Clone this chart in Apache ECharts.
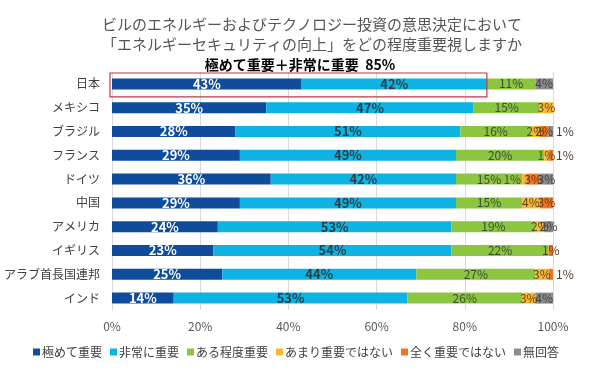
<!DOCTYPE html>
<html><head><meta charset="utf-8">
<script src="https://cdn.jsdelivr.net/npm/echarts@6/dist/echarts.min.js"></script>
<style>html,body{margin:0;padding:0;background:#fff}#c{width:592px;height:375px}</style>
</head><body><div id="c"></div>
<script>
const categories = ['日本','メキシコ','ブラジル','フランス','ドイツ','中国','アメリカ','イギリス','アラブ首長国連邦','インド'];
const seriesNames = ['極めて重要','非常に重要','ある程度重要','あまり重要ではない','全く重要ではない','無回答'];
const extremely   = [43,35,28,29,36,29,24,23,25,14];
const very        = [42,47,51,49,42,49,53,54,44,53];
const somewhat    = [11,15,16,20,15,15,19,22,27,26];
const notMuch     = [0,3,2,1,1,4,2,0,3,3];
const notAtAll    = [0,0,2,1,3,3,0,1,1,0];
const noAnswer    = [4,0,1,0,3,0,2,0,0,4];
const xTicks = [0,20,40,60,80,100];
const highlightText = '極めて重要＋非常に重要  85%';

const values = [extremely, very, somewhat, notMuch, notAtAll, noAnswer];
const colors = ['#0f4c9c','#0cb3e3','#8cc540','#fbb731','#f07622','#8c8c8c'];
const labelColors = ['#ffffff','#2e3d45','#3d4a35','#5a4a20','#5a3a20','#404040'];
const FONT = '"Noto Sans CJK JP", "Noto Sans", sans-serif';

const chart = echarts.init(document.getElementById('c'));
const series = values.map((arr, si) => ({
  name: seriesNames[si],
  type: 'bar',
  stack: 'total',
  barWidth: 11,
  itemStyle: { color: colors[si] },
  data: arr.map((v, i) => {
    let pos = 'inside', dist = 0;
    if (si >= 3 && v > 0 && v <= 1) {
      const isLast = values.slice(si + 1).every(a => a[i] === 0);
      const prev = values[si - 1][i];
      const next = si < 5 ? values[si + 1][i] : 0;
      if (isLast && prev > 0 && prev <= 3) { pos = 'right'; dist = 3; }
      else if (!isLast && next >= 3) { pos = 'left'; dist = 1; }
    }
    return { value: v, label: { position: pos, distance: dist } };
  }),
  label: {
    show: true,
    fontFamily: FONT,
    fontSize: si < 2 ? 13 : 12,
    fontWeight: si < 2 ? 'bold' : 'normal',
    color: labelColors[si],
    formatter: p => p.value > 0 ? p.value + '%' : ''
  }
}));

chart.setOption({
  animation: false,
  textStyle: { fontFamily: FONT },
  title: [
    { text: 'ビルのエネルギーおよびテクノロジー投資の意思決定において\n「エネルギーセキュリティの向上」をどの程度重要視しますか',
      left: 307, textAlign: 'center', top: 9,
      textStyle: { fontFamily: FONT, fontSize: 15, fontWeight: 'normal', color: '#555', lineHeight: 20 } },
    { text: highlightText, left: 295, textAlign: 'center', top: 53,
      textStyle: { fontFamily: FONT, fontSize: 14, fontWeight: 'bold', color: '#000' } }
  ],
  grid: { left: 112, right: 39, top: 72, bottom: 65, containLabel: false },
  xAxis: {
    type: 'value', min: 0, max: 100, interval: 20,
    axisLabel: { formatter: v => xTicks.includes(v) ? v + '%' : '', color: '#595959', fontSize: 12, margin: 10 },
    splitLine: { lineStyle: { color: '#d9d9d9' } },
    axisLine: { show: false }, axisTick: { show: false }
  },
  yAxis: {
    type: 'category', data: categories, inverse: true,
    axisLabel: { color: '#404040', fontSize: 12, margin: 12 },
    axisLine: { show: true, lineStyle: { color: '#d9d9d9' } },
    axisTick: { show: false }
  },
  legend: {
    bottom: 12, left: 'center', itemWidth: 7, itemHeight: 7, itemGap: 8,
    icon: 'rect',
    textStyle: { fontFamily: FONT, fontSize: 12, color: '#404040', padding: [0,0,0,-3] },
    data: seriesNames
  },
  series: series
});

// highlight box around the first row covering 0..(extremely+very)%
const total = extremely[0] + very[0];
const p0 = chart.convertToPixel({ gridIndex: 0 }, [0, 0]);
const p1 = chart.convertToPixel({ gridIndex: 0 }, [total, 0]);
const band = chart.getModel().getComponent('yAxis', 0).axis.getBandWidth();
chart.setOption({
  graphic: [{
    type: 'rect', z: 100,
    shape: { x: p0[0] - 2, y: p0[1] - band / 2 + 1, width: p1[0] - p0[0] + 2, height: band },
    style: { fill: 'none', stroke: '#c0394b', lineWidth: 1.2 }
  }]
});
</script></body></html>
